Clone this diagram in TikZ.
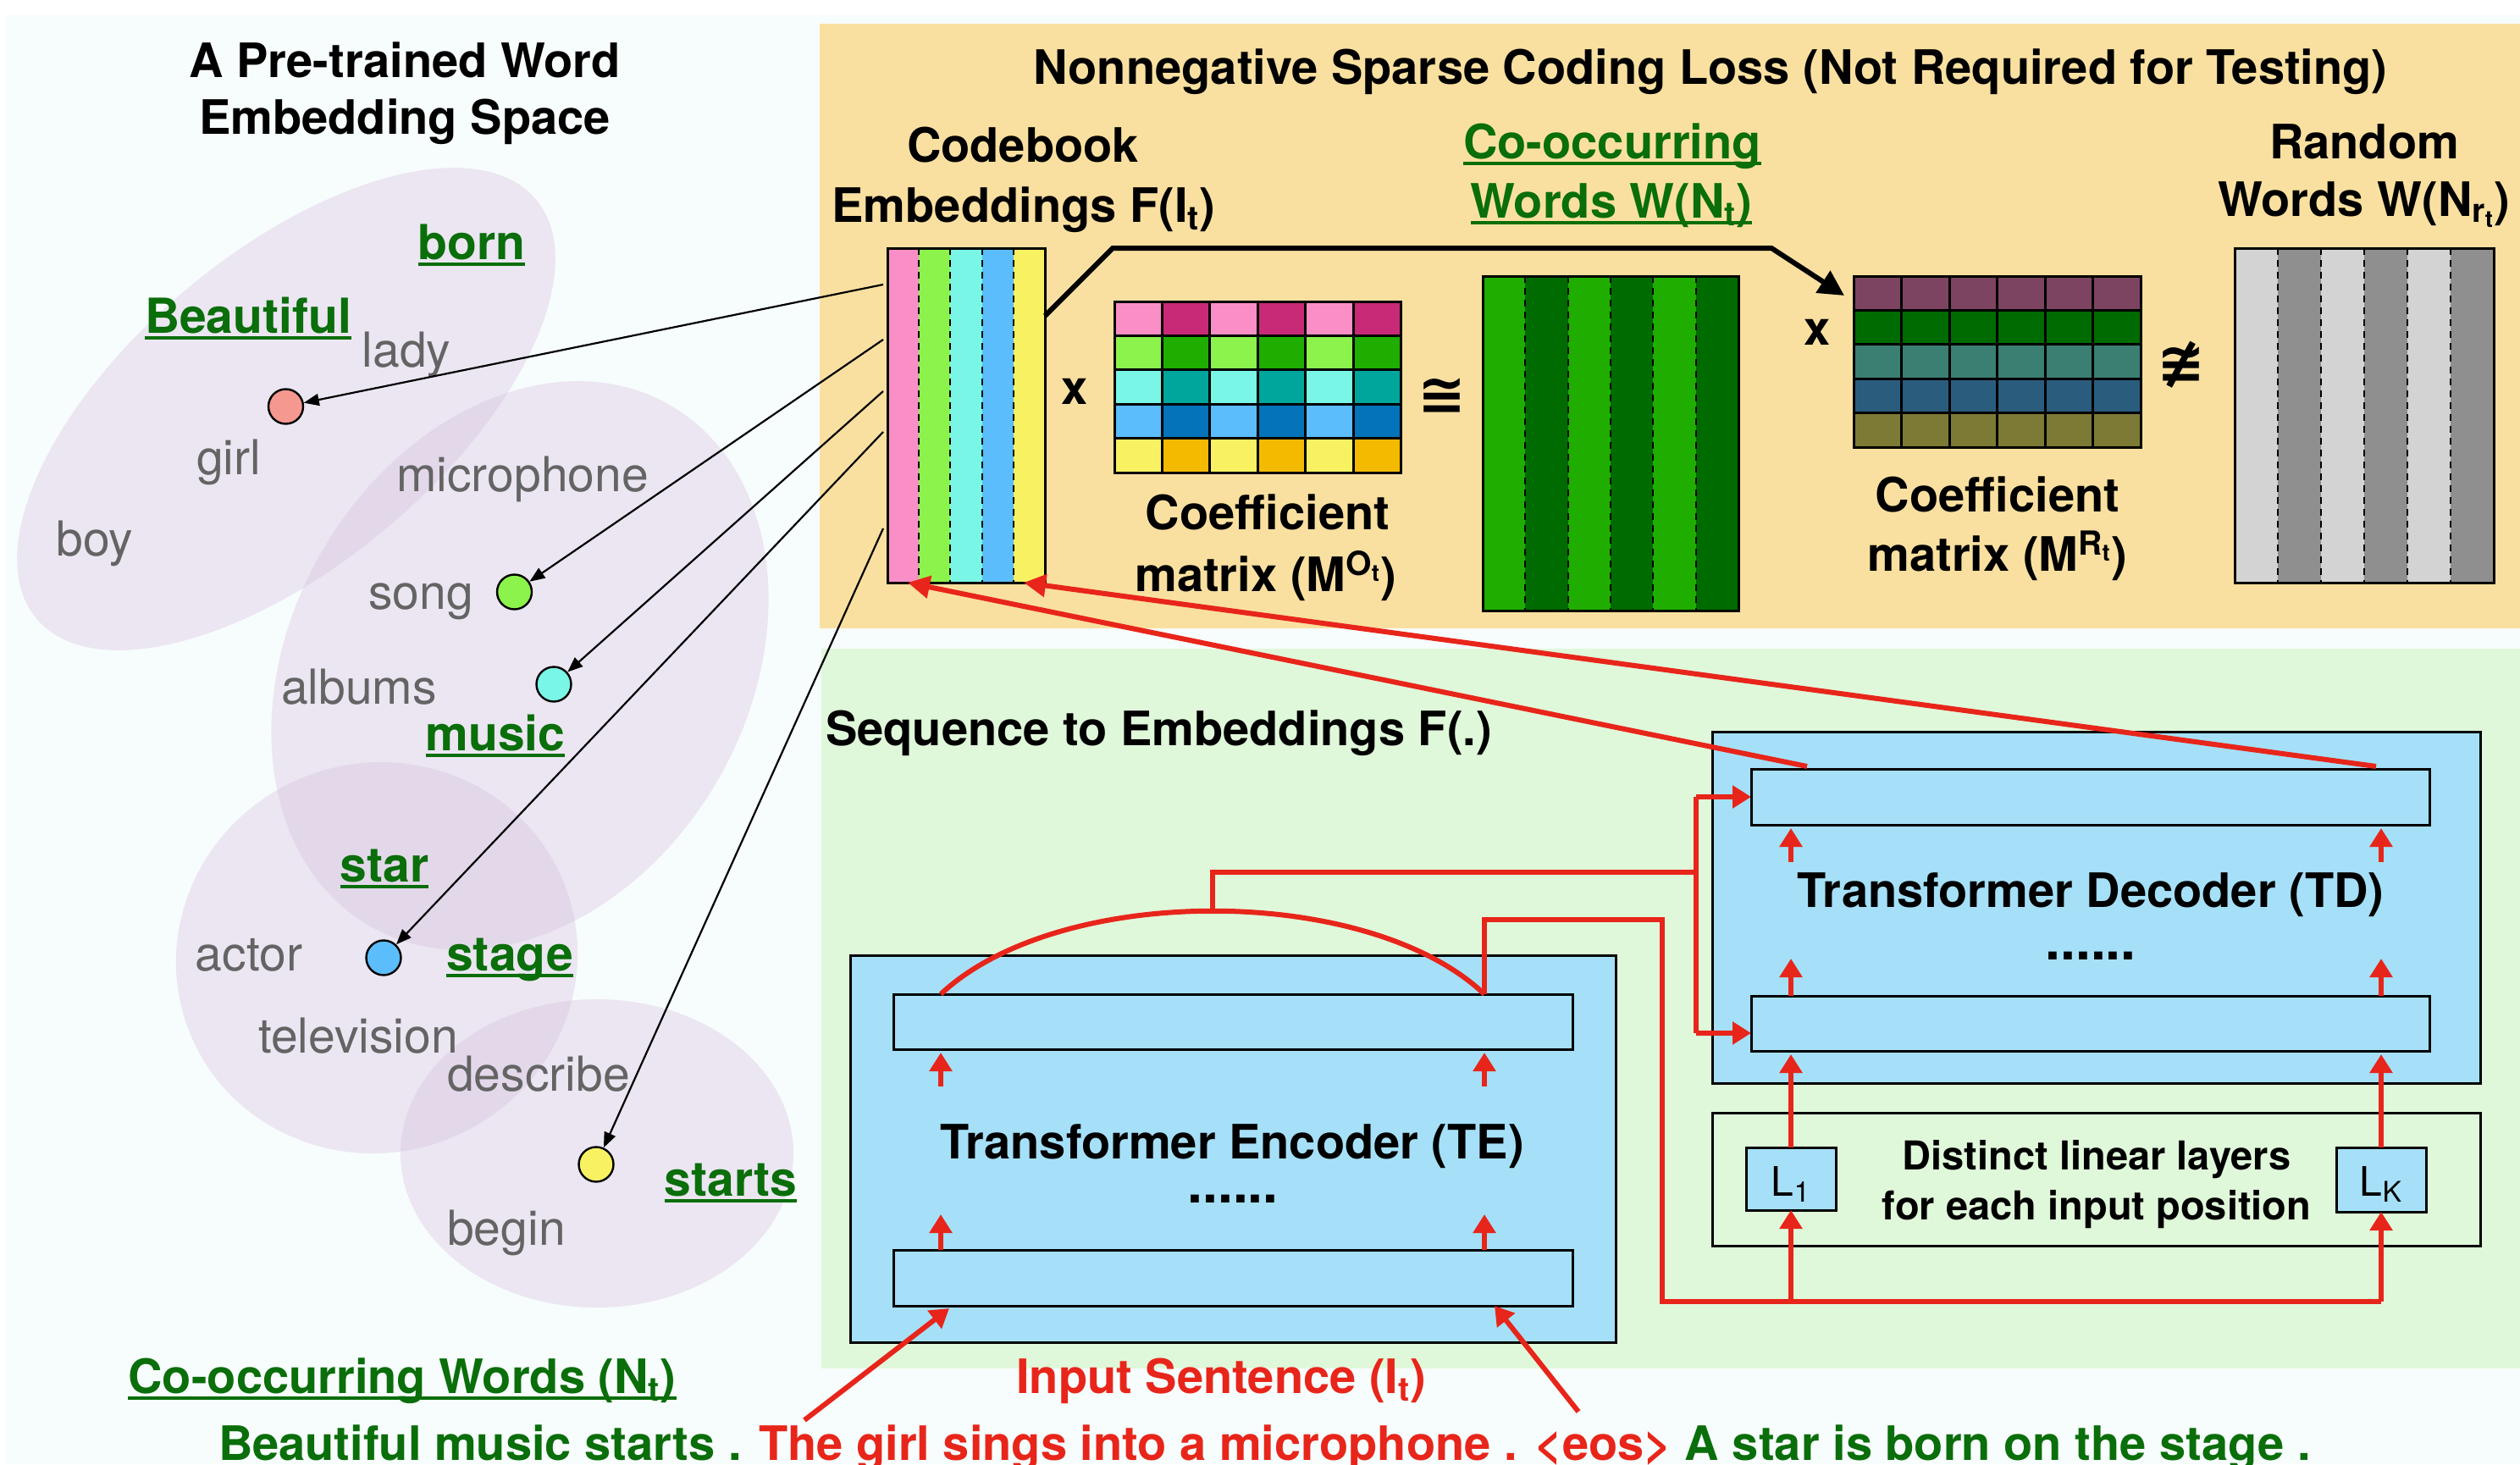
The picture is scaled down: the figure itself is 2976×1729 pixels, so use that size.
\documentclass[tikz,border=0pt]{standalone}
\usepackage{fontspec}
\setmainfont{TeX Gyre Heros}
\newfontfamily\symfont{DejaVu Sans}
\usetikzlibrary{arrows.meta,calc}

\definecolor{pagetint}{RGB}{247,252,252}
\definecolor{lossbg}{RGB}{250,224,160}
\definecolor{seqbg}{RGB}{224,248,218}
\definecolor{tfblue}{RGB}{165,224,248}
\definecolor{blobfill}{RGB}{214,190,222}
\definecolor{wordgray}{RGB}{100,100,100}
\definecolor{labgreen}{RGB}{10,110,10}
\definecolor{flowred}{RGB}{232,37,26}
\definecolor{cpink}{RGB}{249,143,198}
\definecolor{cgreen}{RGB}{139,243,75}
\definecolor{ccyan}{RGB}{121,246,229}
\definecolor{cblue}{RGB}{91,189,251}
\definecolor{cyellow}{RGB}{248,242,98}
\definecolor{dpink}{RGB}{201,42,120}
\definecolor{dgreen}{RGB}{31,174,0}
\definecolor{dcyan}{RGB}{0,166,156}
\definecolor{dblue}{RGB}{4,115,185}
\definecolor{dyellow}{RGB}{244,186,0}
\definecolor{wgreen}{RGB}{0,107,0}
\definecolor{rmauve}{RGB}{124,68,96}
\definecolor{rgreen}{RGB}{0,107,0}
\definecolor{rteal}{RGB}{59,126,114}
\definecolor{rblue}{RGB}{42,92,126}
\definecolor{rolive}{RGB}{124,122,53}
\definecolor{glight}{RGB}{211,211,211}
\definecolor{gdark}{RGB}{143,143,143}
\definecolor{dotsalmon}{RGB}{245,152,144}

% underline sitting just below the baseline
\newsavebox\ulbox
\newcommand\ulword[1]{\sbox\ulbox{#1}\rlap{\usebox\ulbox}\rule[-4pt]{\wd\ulbox}{2pt}}

% empty framed box given by its corners (in picture units)
\newcommand\boxnode[6]{\node[#6, anchor=north west,
  minimum width={(#4-#2)*0.5pt}, minimum height={(#5-#3)*0.5pt}] (#1) at (#2,#3) {};}

\tikzset{
  lbl/.style={inner sep=0pt, outer sep=0pt, anchor=base},
  wordtxt/.style={lbl, text=wordgray, font=\fontsize{28.5}{34}\selectfont},
  keytxt/.style={lbl, text=labgreen, font=\bfseries\fontsize{28.5}{34}\selectfont},
  headtxt/.style={lbl, font=\bfseries\fontsize{28}{34}\selectfont},
  dotstxt/.style={lbl, font=\bfseries\fontsize{32}{34}\selectfont},
  lintxt/.style={lbl, font=\bfseries\fontsize{23.5}{28}\selectfont},
  worddot/.style={circle, draw=black, line width=1.2pt, minimum size=20.5pt, inner sep=0pt},
  pointer/.style={draw=black, line width=1.1pt, -{Triangle[length=9pt,width=7pt]}},
  framebox/.style={draw=black, line width=1.5pt, inner sep=0pt, outer sep=0pt},
  tfbox/.style={framebox, fill=tfblue},
  flowline/.style={draw=flowred, line width=3pt},
  flowarrow/.style={flowline, -{Triangle[length=11pt,width=13pt]}},
  colsep/.style={draw=black, line width=1pt, dash pattern=on 4pt off 3pt},
  gridline/.style={draw=black, line width=1.5pt},
}

\begin{document}
\begin{tikzpicture}[x=0.5pt,y=-0.5pt]
\useasboundingbox (0,0) rectangle (2976,1729);
\fill[white] (0,0) rectangle (2976,1729);
\fill[pagetint] (6,18) rectangle (2976,1729);
\fill[lossbg] (968,28) rectangle (2976,742);
\fill[seqbg] (970,766) rectangle (2976,1616);

% ---------- word embedding space ----------
\begin{scope}[fill=blobfill, fill opacity=0.35]
  \fill[rotate around={40:(338,483)}] (338,483) ellipse [x radius=385, y radius=184];
  \fill[rotate around={60:(614,786)}] (614,786) ellipse [x radius=355, y radius=270];
  \fill[rotate around={20:(445,1131)}] (445,1131) ellipse [x radius=238, y radius=230];
  \fill (705,1362) ellipse [x radius=232, y radius=182];
\end{scope}

\node[headtxt] (emb-t1) at (478,91) {A Pre-trained Word};
\node[headtxt] (emb-t2) at (478,158) {Embedding Space};

\node[wordtxt] (w-lady) at (480,433) {lady};
\node[wordtxt] (w-girl) at (270,560) {girl};
\node[wordtxt] (w-micro) at (617,580) {microphone};
\node[wordtxt] (w-boy) at (112,656) {boy};
\node[wordtxt] (w-song) at (497,719) {song};
\node[wordtxt] (w-albums) at (424,831) {albums};
\node[wordtxt] (w-actor) at (294,1146) {actor};
\node[wordtxt] (w-tv) at (423,1243) {television};
\node[wordtxt] (w-describe) at (636,1288) {describe};
\node[wordtxt] (w-begin) at (598,1470) {begin};

\node[keytxt] (k-born) at (557,306) {\ulword{born}};
\node[keytxt] (k-beautiful) at (293,393) {\ulword{Beautiful}};
\node[keytxt] (k-music) at (585,886) {\ulword{music}};
\node[keytxt] (k-star) at (454,1041) {\ulword{star}};
\node[keytxt] (k-stage) at (602,1146) {\ulword{stage}};
\node[keytxt] (k-starts) at (863,1412) {\ulword{starts}};

\node[worddot, fill=dotsalmon] (dot-girl) at (337.5,480) {};
\node[worddot, fill=cgreen] (dot-song) at (607.5,699) {};
\node[worddot, fill=ccyan] (dot-album) at (654,808) {};
\node[worddot, fill=cblue] (dot-star) at (453,1131) {};
\node[worddot, fill=cyellow] (dot-start) at (704,1375) {};

% ---------- nonnegative sparse coding loss ----------
\node[headtxt] (loss-title) at (2020,99) {Nonnegative Sparse Coding Loss (Not Required for Testing)};

\node[headtxt] (cb-l1) at (1208,191) {Codebook};
\node[headtxt] (cb-l2) at (1209,262) {Embeddings F(I\textsubscript{t})};
\node[keytxt, font=\bfseries\fontsize{28}{34}\selectfont] (ww-l1) at (1904,187) {\ulword{Co-occurring}};
\node[keytxt, font=\bfseries\fontsize{28}{34}\selectfont] (ww-l2) at (1903,257) {\ulword{Words W(N\textsubscript{t})}};
\node[headtxt] (rw-l1) at (2792,187) {Random};
\node[headtxt] (rw-l2) at (2792,255) {Words W(N\textsubscript{r\textsubscript{t}})};
\node[headtxt] (mo-l1) at (1497,625) {Coefficient};
\node[headtxt] (mo-l2) at (1495,698) {matrix (M\textsuperscript{O\textsubscript{t}})};
\node[headtxt] (mr-l1) at (2359,604) {Coefficient};
\node[headtxt] (mr-l2) at (2359,674) {matrix (M\textsuperscript{R\textsubscript{t}})};

% codebook embeddings
\foreach \col [count=\i from 0] in {cpink,cgreen,ccyan,cblue,cyellow}
  \fill[\col] ({1048+37.2*\i},293) rectangle ({1048+37.2*(\i+1)},688);
\foreach \i in {1,...,4} \draw[colsep] ({1048+37.2*\i},293) -- ({1048+37.2*\i},688);
\boxnode{cb}{1048}{293}{1234}{688}{framebox}

% coefficient matrix M^O
\foreach \r/\lc/\dc in {0/cpink/dpink,1/cgreen/dgreen,2/ccyan/dcyan,3/cblue/dblue,4/cyellow/dyellow}{
  \foreach \c in {0,2,4} \fill[\lc] ({1316+56.4*\c},{356+40.4*\r}) rectangle ++(56.4,40.4);
  \foreach \c in {1,3,5} \fill[\dc] ({1316+56.4*\c},{356+40.4*\r}) rectangle ++(56.4,40.4);
}
\foreach \c in {1,...,5} \draw[gridline] ({1316+56.4*\c},356) -- ++(0,202);
\foreach \r in {1,...,4} \draw[gridline] (1316,{356+40.4*\r}) -- ++(338.4,0);
\boxnode{mo}{1316}{356}{1654.4}{558}{framebox}

% co-occurring words
\foreach \c in {0,2,4} \fill[dgreen] ({1751+50.33*\c},326) rectangle ++(50.33,395);
\foreach \c in {1,3,5} \fill[wgreen] ({1751+50.33*\c},326) rectangle ++(50.33,395);
\foreach \c in {1,...,5} \draw[colsep] ({1751+50.33*\c},326) -- ++(0,395);
\boxnode{ww}{1751}{326}{2053}{721}{framebox}

% coefficient matrix M^R
\foreach \r/\rc in {0/rmauve,1/rgreen,2/rteal,3/rblue,4/rolive}
  \fill[\rc] (2189,{326+40.4*\r}) rectangle ++(339,40.4);
\foreach \c in {1,...,5} \draw[gridline] ({2189+56.5*\c},326) -- ++(0,202);
\foreach \r in {1,...,4} \draw[gridline] (2189,{326+40.4*\r}) -- ++(339,0);
\boxnode{mr}{2189}{326}{2528}{528}{framebox}

% random words
\foreach \c in {0,2,4} \fill[glight] ({2639+51*\c},293) rectangle ++(51,395);
\foreach \c in {1,3,5} \fill[gdark] ({2639+51*\c},293) rectangle ++(51,395);
\foreach \c in {1,...,5} \draw[colsep] ({2639+51*\c},293) -- ++(0,395);
\boxnode{rw}{2639}{293}{2945}{688}{framebox}

\node[headtxt] (times-o) at (1269,477) {x};
\node[lbl, font=\symfont\bfseries\fontsize{34}{40}\selectfont] (approx-o) at (1703,489) {≅};
\node[headtxt] (times-r) at (2146,407) {x};
\node[lbl, font=\symfont\bfseries\fontsize{34}{40}\selectfont] (napprox-r) at (2576,452) {≇};

% thick connector from the codebook to M^R
\coordinate (cb-r) at (1234,373);
\coordinate (bend-a) at (1314,293);
\coordinate (bend-b) at (2092,293);
\coordinate (mr-in) at (2178,349);
\draw[line width=3pt, -{Triangle[length=15pt,width=15pt]}] (cb-r) -- (bend-a) -- (bend-b) -- (mr-in);

% pointers from codebook columns to the embedding space
\coordinate (cb-o1) at (1043,336);
\coordinate (cb-o2) at (1043,401);
\coordinate (cb-o3) at (1043,462);
\coordinate (cb-o4) at (1043,510);
\coordinate (cb-o5) at (1043,624);
\draw[pointer] (cb-o1) -- (dot-girl);
\draw[pointer] (cb-o2) -- (dot-song);
\draw[pointer] (cb-o3) -- (dot-album);
\draw[pointer] (cb-o4) -- (dot-star);
\draw[pointer] (cb-o5) -- (dot-start);

% ---------- sequence to embeddings ----------
\node[headtxt, anchor=base west] (seq-title) at (975,880) {Sequence to Embeddings F(.)};

\boxnode{te}{1004}{1128}{1908}{1585}{tfbox}
\boxnode{te-top}{1055}{1174}{1857}{1239}{tfbox}
\boxnode{te-bot}{1055}{1476}{1857}{1542}{tfbox}
\node[headtxt] (te-name) at (1455,1368) {Transformer Encoder (TE)};
\node[dotstxt] (te-dots) at (1456,1420) {......};

\boxnode{td}{2022}{864}{2929}{1279}{tfbox}
\boxnode{td-top}{2068}{908}{2869}{974}{tfbox}
\boxnode{td-bot}{2068}{1176}{2869}{1241}{tfbox}
\node[headtxt] (td-name) at (2469,1071) {Transformer Decoder (TD)};
\node[dotstxt] (td-dots) at (2469,1133) {......};

\boxnode{lin}{2022}{1314}{2929}{1471}{framebox}
\boxnode{l1}{2062}{1355}{2168}{1429}{tfbox}
\boxnode{lk}{2759}{1355}{2865}{1431}{tfbox}
\node[lbl, font=\fontsize{24}{28}\selectfont] (l1-txt) at (2115,1412) {L\textsubscript{1}};
\node[lbl, font=\fontsize{24}{28}\selectfont] (lk-txt) at (2812,1412) {L\textsubscript{K}};
\node[lintxt] (lin-t1) at (2476,1381) {Distinct linear layers};
\node[lintxt] (lin-t2) at (2476,1440) {for each input position};

% red data flow
\coordinate (arc-l) at (1111,1174);
\coordinate (arc-r) at (1753,1174);
\coordinate (arc-peak) at (1432,1076);
\coordinate (td-split) at (2003,1030);
\coordinate (td-vt) at (2003,941);
\coordinate (td-vb) at (2003,1220);
\coordinate (lin-bend) at (1963,1086);
\coordinate (l1-feed) at (2115,1537);
\coordinate (lk-feed) at (2812,1537);

\draw[flowarrow] (te-bot.north -| arc-l) -- ++(0,-42);
\draw[flowarrow] (te-bot.north -| arc-r) -- ++(0,-42);
\draw[flowarrow, shorten >=2pt] ([yshift=-22pt]te-top.south -| arc-l) -- (te-top.south -| arc-l);
\draw[flowarrow, shorten >=2pt] ([yshift=-22pt]te-top.south -| arc-r) -- (te-top.south -| arc-r);

\draw[flowline] (arc-l) .. controls (1250,1043) and (1615,1043) .. (arc-r);
\draw[flowline] (arc-peak) |- (td-split);
\draw[flowline] (td-vt) -- (td-vb);
\draw[flowarrow] (td-vt) -- (td-top.west |- td-vt);
\draw[flowarrow] (td-vb) -- (td-bot.west |- td-vb);
\draw[flowline] (arc-r) |- (lin-bend) |- (lk-feed);
\draw[flowarrow] (l1-feed) -- (l1.south);
\draw[flowarrow] (lk-feed) -- (lk.south);

\draw[flowarrow, shorten >=2pt] (l1.north) -- (td-bot.south -| l1.north);
\draw[flowarrow, shorten >=2pt] (lk.north) -- (td-bot.south -| lk.north);
\draw[flowarrow] (td-bot.north -| l1-feed) -- ++(0,-44);
\draw[flowarrow] (td-bot.north -| lk-feed) -- ++(0,-44);
\draw[flowarrow, shorten >=2pt] ([yshift=-22pt]td-top.south -| l1-feed) -- (td-top.south -| l1-feed);
\draw[flowarrow, shorten >=2pt] ([yshift=-22pt]td-top.south -| lk-feed) -- (td-top.south -| lk-feed);

% decoder outputs back to the codebook
\coordinate (tdo-l) at (2134,905);
\coordinate (tdo-r) at (2806,905);
\coordinate (cb-in-l) at (1072,688);
\coordinate (cb-in-r) at (1209,688);
\draw[flowline, -{Triangle[length=13pt,width=13pt]}] (tdo-l) -- (cb-in-l);
\draw[flowline, -{Triangle[length=13pt,width=13pt]}] (tdo-r) -- (cb-in-r);

% ---------- input sentence ----------
\node[keytxt, font=\bfseries\fontsize{28}{34}\selectfont] (cow-label) at (475,1645) {\ulword{Co-occurring Words (N\textsubscript{t})}};
\node[headtxt, text=flowred] (in-label) at (1442,1645) {Input Sentence (I\textsubscript{t})};
\node[headtxt, anchor=base west] (sentence) at (258,1724)
  {\textcolor{labgreen}{Beautiful music starts .} \textcolor{flowred}{The girl sings into a microphone . <eos>} \textcolor{labgreen}{A star is born on the stage .}};

\coordinate (sent-a) at (950,1677);
\coordinate (sent-b) at (1864,1667);
\coordinate (te-in-l) at (1121,1545);
\coordinate (te-in-r) at (1765,1542);
\draw[flowarrow] (sent-a) -- (te-in-l);
\draw[flowarrow] (sent-b) -- (te-in-r);
\end{tikzpicture}
\end{document}
